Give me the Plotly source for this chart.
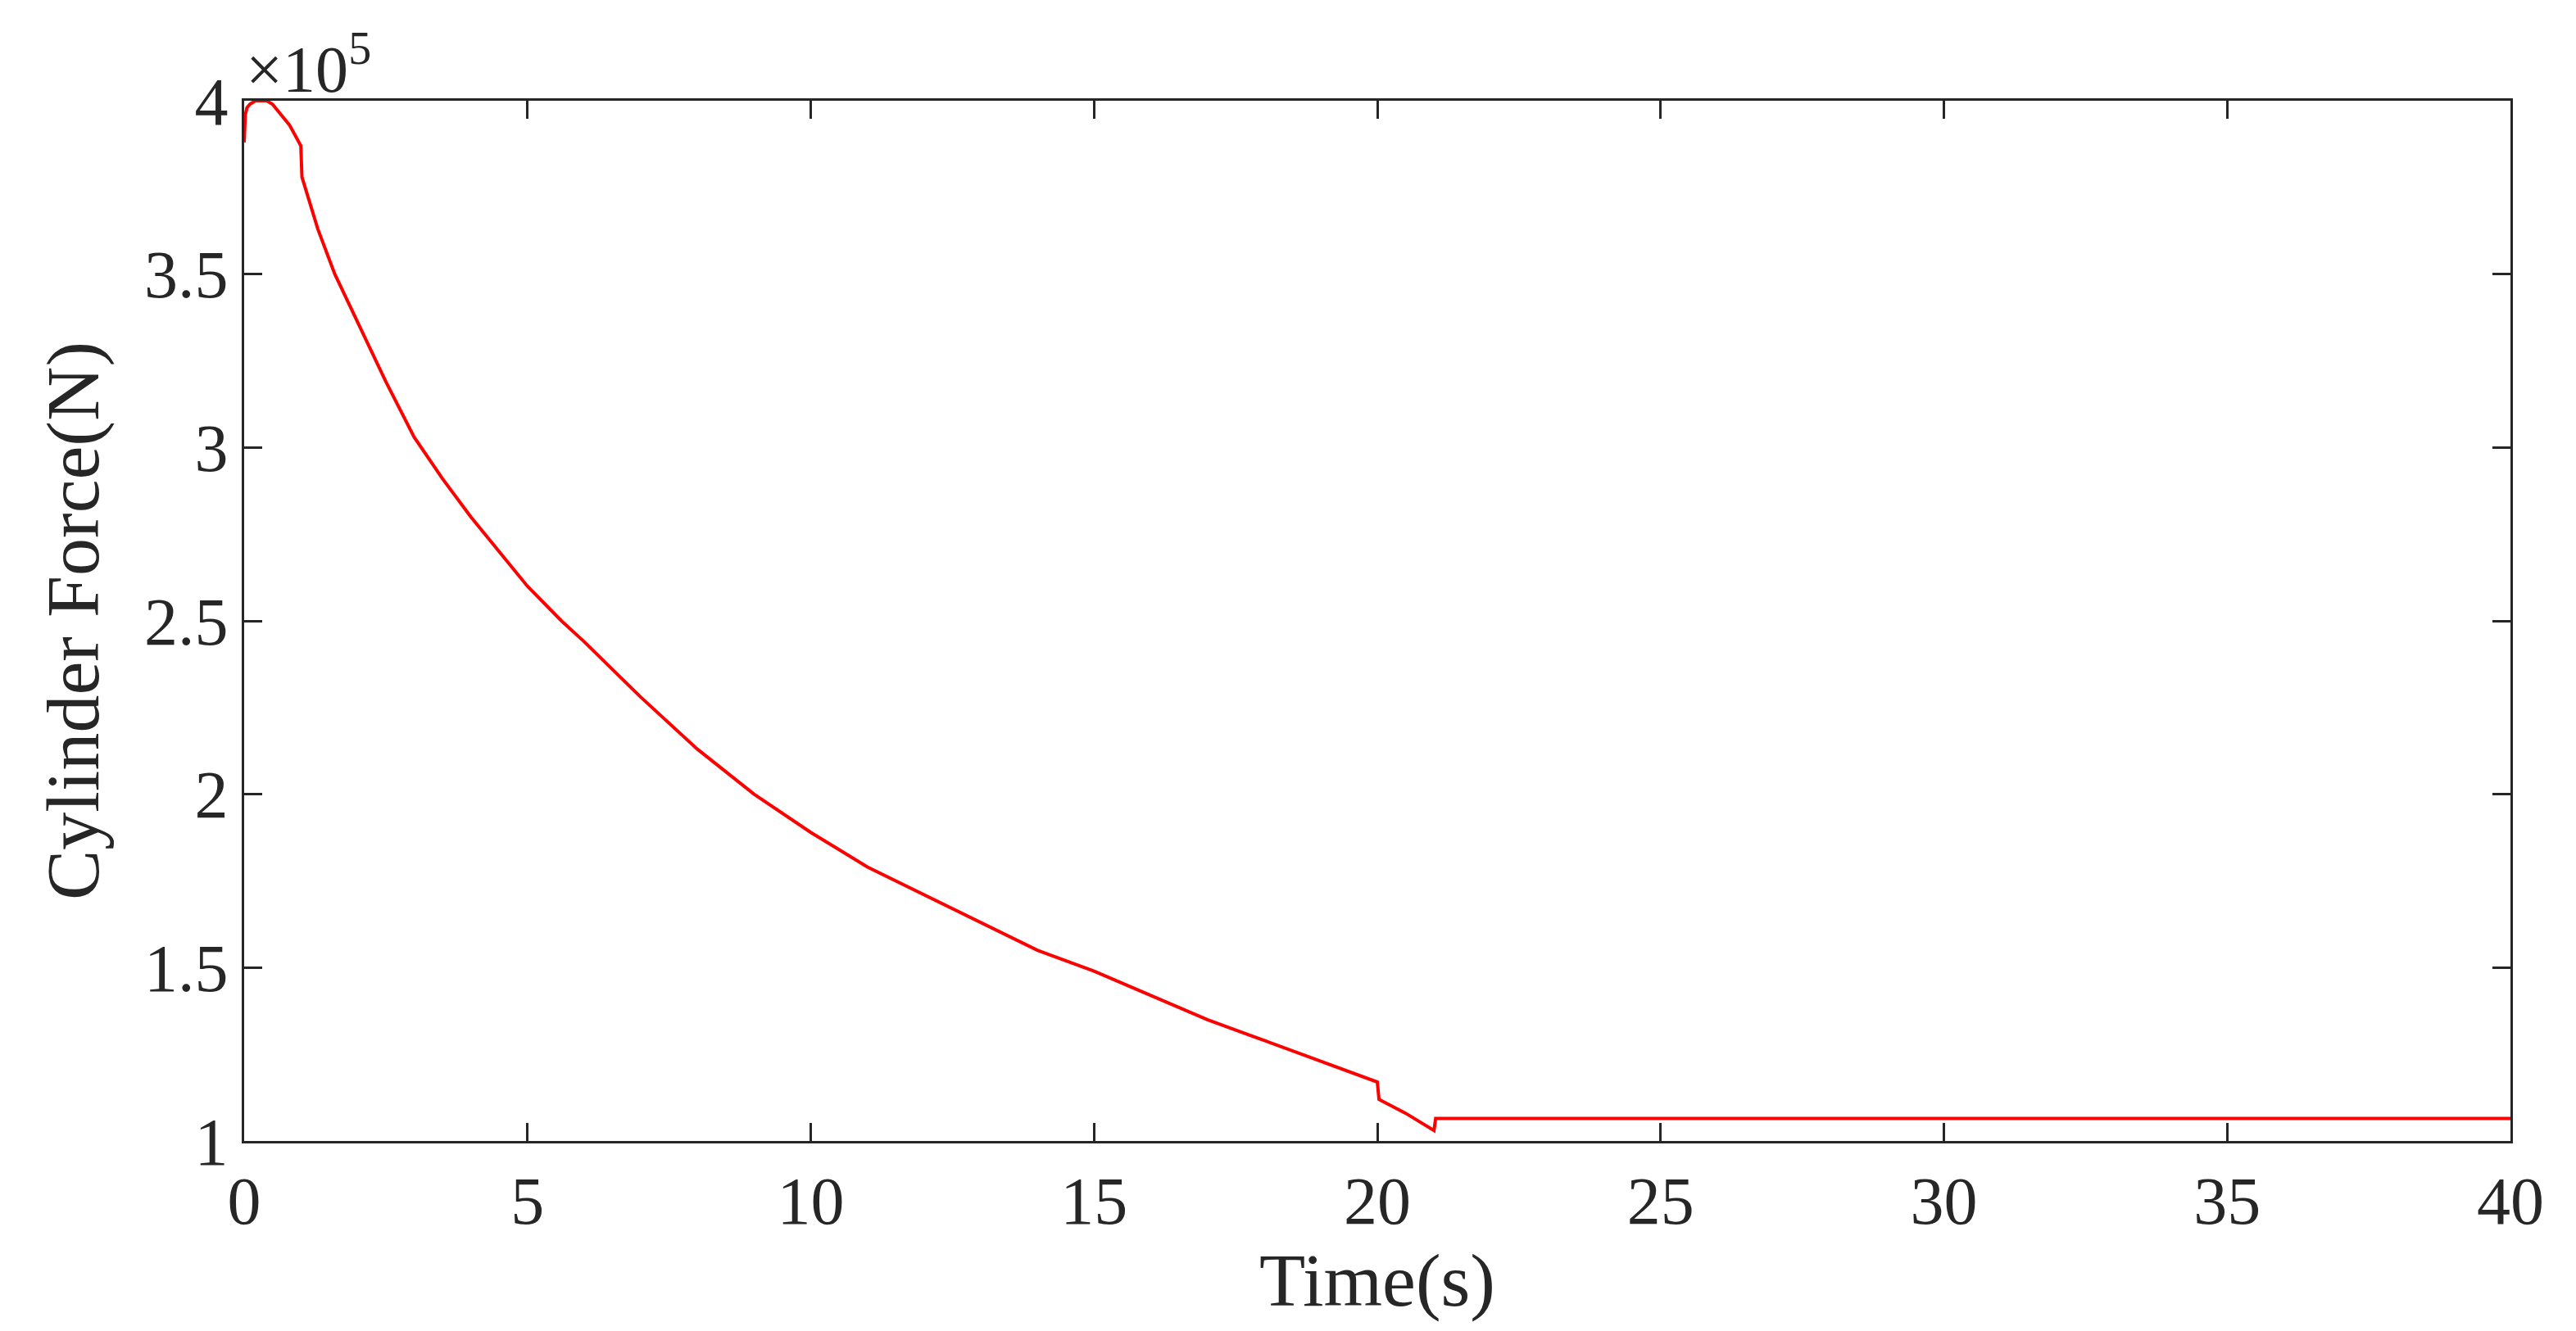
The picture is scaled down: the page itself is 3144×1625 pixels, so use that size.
import plotly.graph_objects as go

t = [0.0, 0.02, 0.05, 0.1, 0.2, 0.3, 0.4, 0.5, 0.6, 0.7, 0.8, 0.9, 1.0, 1.02,
     1.3, 1.6, 2.0, 2.5, 3.0, 3.5, 4.0, 4.5, 5.0, 5.6, 6.0, 7.0, 8.0, 9.0, 10.0, 11.0, 12.0, 13.0,
     14.0, 15.0, 16.0, 17.0, 18.0, 19.0, 20.0, 20.03, 20.5, 21.0, 21.03, 21.1, 30.0, 40.0]
force = [3.88, 3.96, 3.98, 3.99, 4.0, 4.0, 4.0, 3.99, 3.97, 3.95, 3.93, 3.90, 3.87, 3.78,
         3.63, 3.50, 3.36, 3.19, 3.03, 2.91, 2.80, 2.70, 2.60, 2.50, 2.44, 2.28, 2.13, 2.00, 1.89, 1.79, 1.71, 1.63,
         1.55, 1.49, 1.42, 1.35, 1.29, 1.23, 1.17, 1.12, 1.08, 1.03, 1.065, 1.065, 1.065, 1.065]
xticks = [0, 5, 10, 15, 20, 25, 30, 35, 40]
yticks = [1, 1.5, 2, 2.5, 3, 3.5, 4]
yticklabels = ["1", "1.5", "2", "2.5", "3", "3.5", "4"]

fig = go.Figure(go.Scatter(x=t, y=force, mode="lines", line=dict(color="#ff0000", width=4), showlegend=False))
font = dict(family="Liberation Serif, DejaVu Serif, serif", color="#262626")
ax = dict(showline=True, linecolor="#262626", linewidth=3, mirror="ticks", ticks="inside",
          ticklen=22, tickwidth=3, tickcolor="#262626", showgrid=False, zeroline=False,
          tickfont=dict(size=82, **font))
fig.update_xaxes(range=[0, 40], tickvals=xticks, title=dict(text="Time(s)", font=dict(size=92, **font), standoff=0), **ax)
fig.update_yaxes(range=[1, 4], tickvals=yticks, ticktext=yticklabels,
                 title=dict(text="Cylinder Force(N)", font=dict(size=92, **font), standoff=25), **ax)
fig.add_annotation(text="×10<sup>5</sup>", x=0, y=1, xref="paper", yref="paper", xanchor="left", yanchor="bottom",
                   showarrow=False, font=dict(size=80, **font), yshift=-8)
fig.update_layout(width=3144, height=1625, paper_bgcolor="white", plot_bgcolor="white",
                  margin=dict(l=290, r=88, t=115, b=240))
fig.write_html("out.html")
